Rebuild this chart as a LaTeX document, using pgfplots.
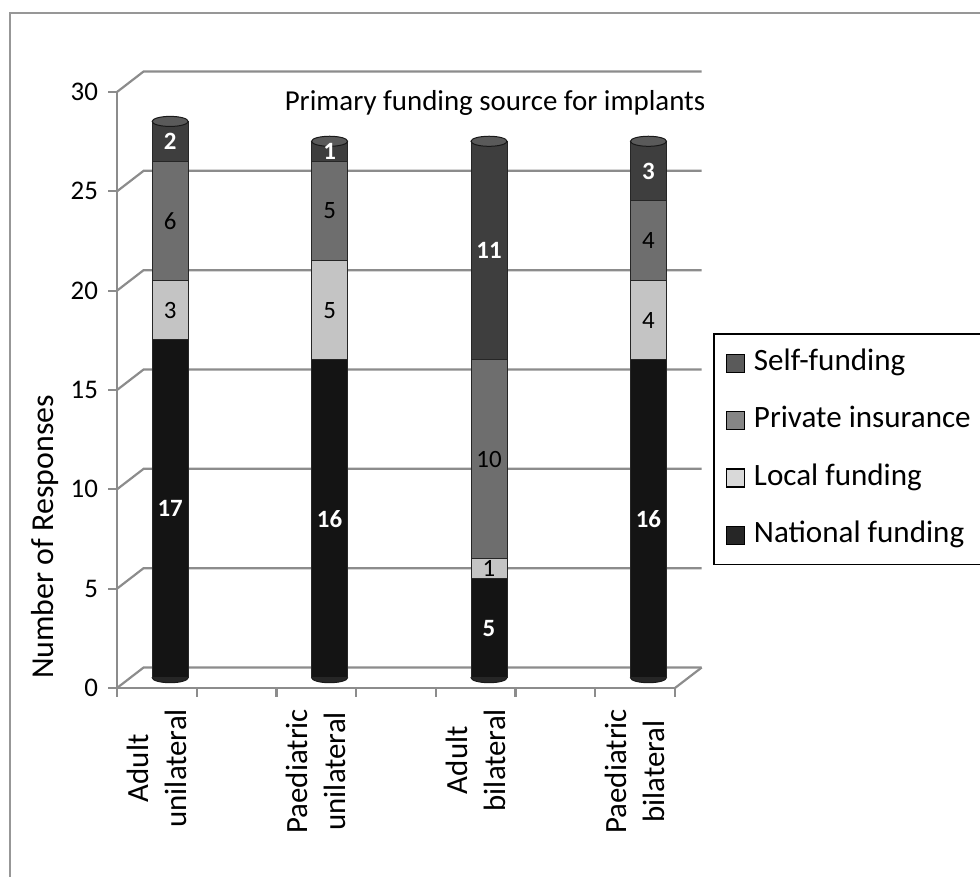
\documentclass[border=0pt]{standalone}
\usepackage{fontspec}
\setmainfont{Carlito}
\usepackage{pgfplots}
\usepackage{pgfplotstable}
\pgfplotsset{compat=1.18}

\definecolor{gridC}{HTML}{8C8C8C}
\definecolor{natC}{HTML}{262626}
\definecolor{natE}{HTML}{141414}
\definecolor{natM}{HTML}{3A3A3A}
\definecolor{locC}{HTML}{D9D9D9}
\definecolor{locE}{HTML}{C4C4C4}
\definecolor{locM}{HTML}{F2F2F2}
\definecolor{priC}{HTML}{858585}
\definecolor{priE}{HTML}{6E6E6E}
\definecolor{priM}{HTML}{9C9C9C}
\definecolor{selfC}{HTML}{5A5A5A}
\definecolor{selfE}{HTML}{3E3E3E}
\definecolor{selfM}{HTML}{666666}

% responses per funding source, one row per implant category
\pgfplotstableread{
pos zero nat loc pri self total
0.5 0 17 3 6 2 28
2.5 0 16 5 5 1 27
4.5 0 5 1 10 11 27
6.5 0 16 4 4 3 27
}\funding

% labels on the dark segments (national, self-funding)
\pgfplotstableread{
x y lab
0.5 8.5 17
0.5 27 2
2.5 8 16
2.5 26.5 1
4.5 2.5 5
4.5 21.5 11
6.5 8 16
6.5 25.5 3
}\darklabels

% labels on the light segments (local, private)
\pgfplotstableread{
x y lab
0.5 18.5 3
0.5 23 6
2.5 18.5 5
2.5 23.5 5
4.5 5.5 1
4.5 11 10
6.5 18 4
6.5 22 4
}\lightlabels

\pgfplotsset{
  plane/.style={scale only axis, width=279bp, height=298bp,
    xmin=0, xmax=7, ymin=0, ymax=30, anchor=south west},
  midplane/.style={plane, at={(65.15bp,99.65bp)}, hide axis, clip=false},
  cap/.style={only marks, mark=*, mark size=9bp,
    mark options={yscale=0.28, line width=0.5bp, draw=black!90, fill=#1}},
  valuelabels/.style={draw=none, mark=none,
    nodes near coords, point meta=explicit symbolic,
    nodes near coords style={anchor=center, #1}},
}

\begin{document}
\begin{tikzpicture}[x=0.5bp, y=0.5bp]
\useasboundingbox (0,0) rectangle (980,877);
% outer frame
\draw[gridC!90, line width=1.4bp] (10,0) -- (10,864) -- (980,864);

% back wall and floor
\foreach \k in {0,5,...,30}{
  \pgfmathsetmacro{\yy}{189+\k*19.8667}
  \draw[gridC, line width=1.1bp] (117,\yy) -- (143.6,\yy+20.5) -- (701.7,\yy+20.5);
}
\draw[gridC, line width=1.1bp] (675,189) -- (701.7,209.5);

% front axes, tick labels and legend
\begin{axis}[plane, at={(58.5bp,94.5bp)}, clip=false,
  axis lines=left,
  axis line style={gridC, line width=1.1bp, -},
  tick style={gridC, line width=1.1bp},
  tick align=outside, major tick length=4.5bp,
  ytick={0,5,...,30},
  xtick={0,...,7}, xticklabels={},
  extra x ticks={0.5,2.5,4.5,6.5},
  extra x tick labels={{Adult\\unilateral},{Paediatric\\unilateral},{Adult\\bilateral},{Paediatric\\bilateral}},
  extra x tick style={major tick length=0pt,
    xticklabel style={yshift=-7bp, rotate=90, anchor=east, align=center,
      font=\fontsize{15.5}{19}\selectfont}},
  yticklabel style={font=\fontsize{13.5}{15}\selectfont, xshift=-1.5bp},
  /pgf/number format/assume math mode=true,
  legend style={at={(1.068,0.5956)}, anchor=north west,
    draw=black, line width=0.8bp,
    font=\fontsize{15.6}{18}\selectfont,
    inner xsep=6bp, inner ysep=7bp, row sep=13.4bp, column sep=4.5bp,
    nodes={inner sep=0pt, text height=11.3bp, text depth=4bp},
    cells={anchor=west}},
  legend image code/.code={\draw[#1] (0bp,-4.5bp) rectangle (9bp,4.5bp);},
]
\addlegendimage{fill=selfC, draw=black, line width=0.6bp}
\addlegendentry{Self-funding}
\addlegendimage{fill=priC, draw=black, line width=0.6bp}
\addlegendentry{Private insurance}
\addlegendimage{fill=locC, draw=black, line width=0.6bp}
\addlegendentry{Local funding}
\addlegendimage{fill=natC, draw=black, line width=0.6bp}
\addlegendentry{National funding}
\end{axis}

% rounded cylinder bottoms
\begin{axis}[midplane]
\addplot[cap=natC] table[x=pos, y=zero] {\funding};
\end{axis}

% stacked cylinders
\begin{axis}[midplane, ybar stacked, bar width=18bp]
\addplot[draw=black!85, line width=0.5bp, left color=natE, middle color=natM, right color=natE]
  table[x=pos, y=nat] {\funding};
\addplot[draw=black!85, line width=0.5bp, left color=locE, middle color=locM, right color=locE]
  table[x=pos, y=loc] {\funding};
\addplot[draw=black!85, line width=0.5bp, left color=priE, middle color=priM, right color=priE]
  table[x=pos, y=pri] {\funding};
\addplot[draw=black!85, line width=0.5bp, left color=selfE, middle color=selfM, right color=selfE]
  table[x=pos, y=self] {\funding};
\end{axis}

% cylinder tops and value labels
\begin{axis}[midplane]
\addplot[cap=selfC] table[x=pos, y=total] {\funding};
\addplot[valuelabels={text=white, font=\bfseries\fontsize{12.5}{14}\selectfont}]
  table[x=x, y=y, meta=lab] {\darklabels};
\addplot[valuelabels={text=black, font=\fontsize{12.5}{14}\selectfont}]
  table[x=x, y=y, meta=lab] {\lightlabels};
\end{axis}

% title and axis label
\node[font=\fontsize{14.5}{17}\selectfont] at (495,774) {Primary funding source for implants};
\node[rotate=90, font=\fontsize{16}{19}\selectfont] at (45,340) {Number of Responses};
\end{tikzpicture}
\end{document}
